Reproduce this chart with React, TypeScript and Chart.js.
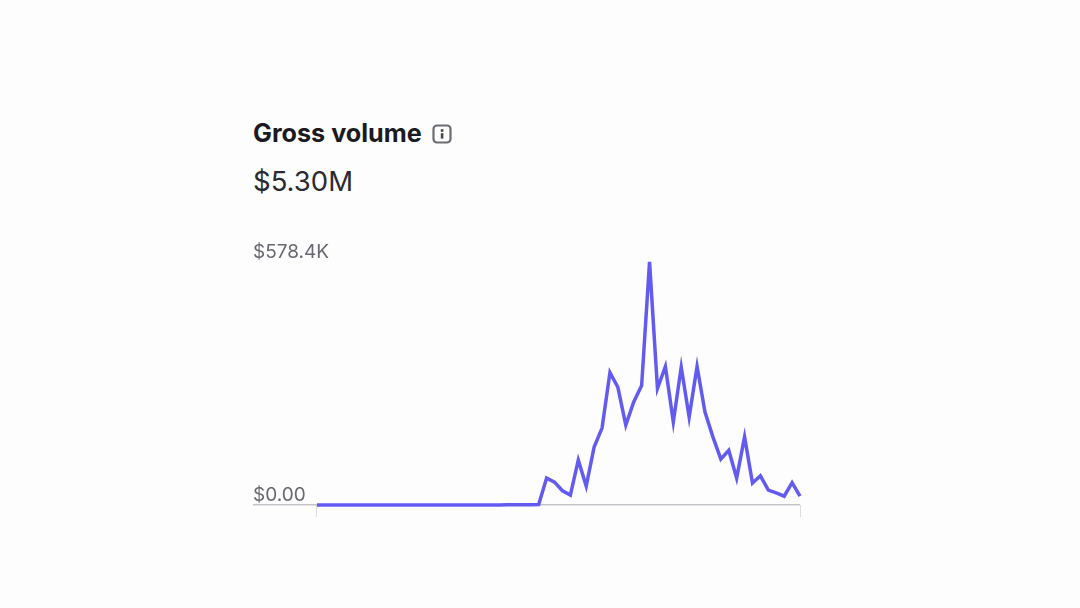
import React, { useEffect, useRef } from "react";
import { Chart, registerables } from "chart.js";

Chart.register(...registerables);

const title = "Gross volume";
const total = "$5.30M";
const yMax = 578.4;
const flatStart = [0,0,0,0,0,0,0,0,0,0,0,0,0,0,0,0,0,0,0,0,0,0,0,0,0.5,0.5,0.8,0.8,1];
const activity = [64,54.5,33.9,23.7,106.7,45,138,183,315,280,190,245,284,578.4,277,329.5,197.5,328,209,329.5,221,162,109,130,64,162,52,69.5,35.6,29,21,53,21];
const values = [...flatStart, ...activity];
const xTicks = [0, 61];

export default function App() {
  const ref = useRef<HTMLCanvasElement>(null);
  useEffect(() => {
    document.body.style.margin = "0";
    document.body.style.background = "#fefdfe";
    const chart = new Chart(ref.current!, {
      type: "line",
      data: {
        datasets: [{
          data: values.map((v, i) => ({ x: i, y: v })),
          borderColor: "#635bf0",
          borderWidth: 3.5,
          pointRadius: 0,
          tension: 0,
          clip: false,
          borderJoinStyle: "miter",
        }],
      },
      options: {
        animation: false,
        responsive: false,
        maintainAspectRatio: false,
        layout: { padding: { right: 10 } },
        plugins: { legend: { display: false }, tooltip: { enabled: false } },
        scales: {
          x: {
            type: "linear",
            min: -8.08,
            max: 61,
            afterBuildTicks: (s: any) => { s.ticks = xTicks.map((value) => ({ value })); },
            grid: { drawOnChartArea: false, drawTicks: true, tickLength: 12, color: "#dcdce0", tickWidth: 1 },
            border: { display: false },
            ticks: { callback: () => "", padding: 0, maxRotation: 0, autoSkip: false, font: { size: 10 } },
          },
          y: {
            min: 0,
            max: yMax,
            afterBuildTicks: (s: any) => { s.ticks = [0, yMax].map((value) => ({ value })); },
            border: { display: false },
            grid: {
              drawTicks: false,
              lineWidth: 1.5,
              color: (c: any) => (c.tick && c.tick.value === 0 ? "#c4c4c8" : "rgba(0,0,0,0)"),
            },
            ticks: {
              mirror: true,
              padding: 0,
              align: "end",
              autoSkip: false,
              color: "#68686f",
              font: { family: "Inter", size: 19 },
              callback: (v: any) => (Number(v) === 0 ? "$0.00" : "$578.4K"),
            },
          },
        },
      },
    });
    return () => chart.destroy();
  }, []);

  return (
    <div style={{ position: "relative", width: 1080, height: 608, overflow: "hidden", background: "#fefdfe", fontFamily: "Inter" }}>
      <div style={{ position: "absolute", left: 253, top: 118, fontSize: 25.2, lineHeight: "30px", fontWeight: 700, color: "#1a1a1f", whiteSpace: "nowrap" }}>{title}</div>
      <svg style={{ position: "absolute", left: 432, top: 124 }} width={20} height={20} viewBox="0 0 20 20">
        <rect x={1.5} y={1.5} width={17} height={17} rx={3.5} fill="none" stroke="#6b6b72" strokeWidth={2.2} />
        <rect x={8.8} y={5.2} width={2.6} height={2.6} fill="#45454c" />
        <rect x={8.8} y={9.2} width={2.6} height={5.4} fill="#45454c" />
      </svg>
      <div style={{ position: "absolute", left: 253, top: 163, fontSize: 27.5, lineHeight: "36px", fontWeight: 400, color: "#2a2a30", whiteSpace: "nowrap" }}>{total}</div>
      <canvas ref={ref} width={557} height={290} style={{ position: "absolute", left: 253, top: 239, display: "block" }} />
    </div>
  );
}
